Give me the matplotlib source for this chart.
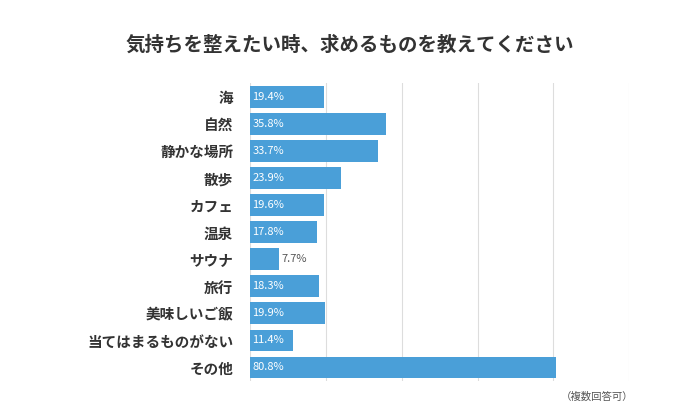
import matplotlib.pyplot as plt

plt.rcParams['font.family'] = ['Noto Sans CJK JP', 'DejaVu Sans']

categories = ['海', '自然', '静かな場所', '散歩', 'カフェ', '温泉', 'サウナ', '旅行',
              '美味しいご飯', '当てはまるものがない', 'その他']
values = [19.4, 35.8, 33.7, 23.9, 19.6, 17.8, 7.7, 18.3, 19.9, 11.4, 80.8]
ticks = [0, 20, 40, 60, 80, 100]

fig = plt.figure(figsize=(7, 4.2), dpi=100)
ax = fig.add_axes([0.357, 0.093, 0.542, 0.709])
y = list(range(len(categories)))
ax.barh(y, values, height=0.8, color='#4a9fd8', zorder=2)
for yi, v in zip(y, values):
    if v > 10:
        ax.text(0.6, yi, f'{v}%', color='white', va='center', ha='left', fontsize=8)
    else:
        ax.text(v + 0.6, yi, f'{v}%', color='#555555', va='center', ha='left', fontsize=8)
ax.set_yticks(y)
ax.set_yticklabels(categories, fontsize=10.5, fontweight='bold', color='#333333')
ax.set_ylim(len(categories) - 0.5, -0.5)
ax.set_xlim(0, 100)
ax.set_xticks(ticks)
ax.set_xticklabels([])
ax.tick_params(length=0, pad=12)
ax.grid(axis='x', color='#dddddd', linewidth=0.8, zorder=0)
for s in ax.spines.values():
    s.set_visible(False)
fig.text(0.5, 0.893, '気持ちを整えたい時、求めるものを教えてください', ha='center', va='center',
         fontsize=14, fontweight='bold', color='#333333')
fig.text(0.905, 0.055, '（複数回答可）', ha='right', va='center', fontsize=7.5, color='#555555')
fig.savefig('out.png')
